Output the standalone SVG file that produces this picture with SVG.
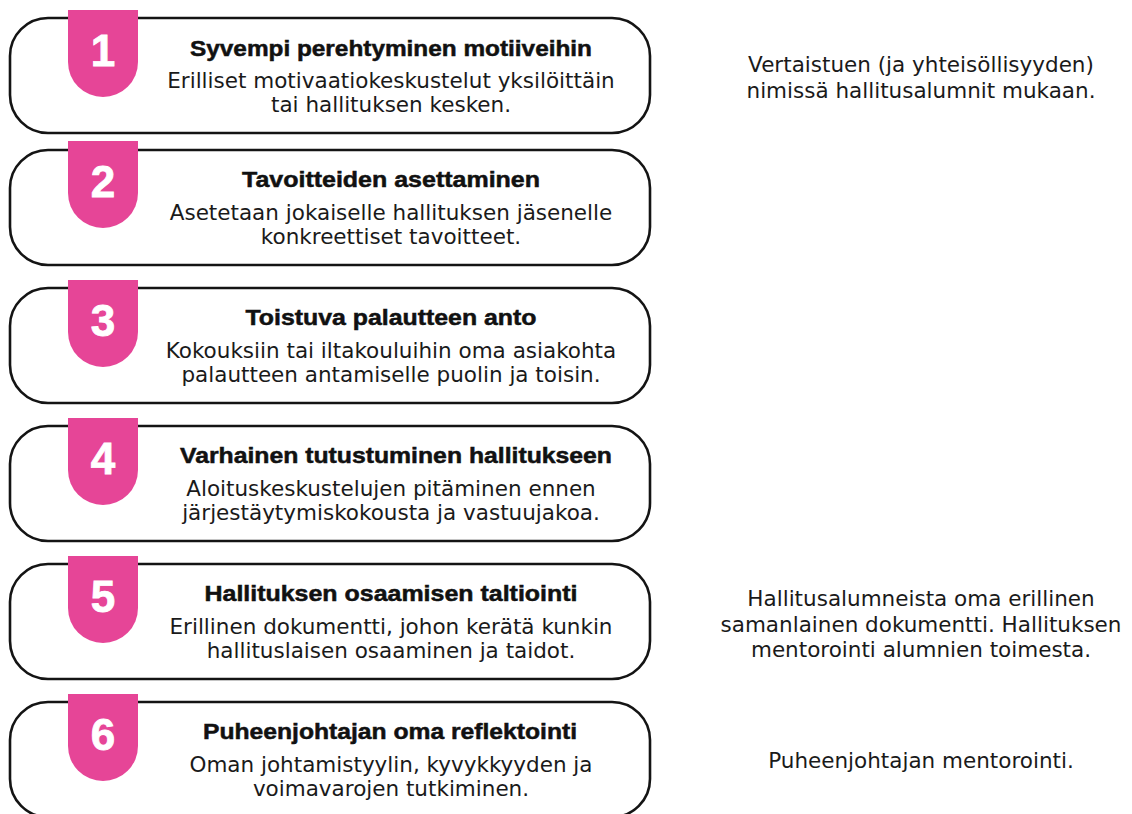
<svg xmlns="http://www.w3.org/2000/svg" width="1132" height="814" viewBox="0 0 1132 814">
<defs>
<style>
.card{fill:#fff;stroke:#141414;stroke-width:2.6}
.badge{fill:#E64597}
.num{font-family:"Liberation Sans",Arial,sans-serif;font-weight:900;font-size:44px;fill:#fff;stroke:#fff;stroke-width:0.8;text-anchor:middle}
.title{font-family:"Liberation Sans",Arial,sans-serif;font-weight:700;font-size:22px;fill:#111;stroke:#111;stroke-width:0.5;text-anchor:middle}
.body{font-family:"DejaVu Sans","Liberation Sans",sans-serif;font-size:21.5px;fill:#1a1a1a;text-anchor:middle}
.note{font-family:"DejaVu Sans","Liberation Sans",sans-serif;font-size:21.5px;fill:#1a1a1a;text-anchor:middle}
</style>
</defs>
<rect width="1132" height="814" fill="#fff"/>
<g id="node1">
<rect class="card" x="10" y="18" width="640" height="115" rx="38"/>
<path class="badge" d="M68,10H138V62A35,35 0 0 1 68,62Z"/>
<text class="num" x="103" y="66">1</text>
<text class="title" x="391" y="56" textLength="402" lengthAdjust="spacingAndGlyphs">Syvempi perehtyminen motiiveihin</text>
<text class="body" x="391" y="88">Erilliset motivaatiokeskustelut yksilöittäin</text>
<text class="body" x="391" y="112">tai hallituksen kesken.</text>
</g>
<g id="node2">
<rect class="card" x="10" y="150" width="640" height="115" rx="38"/>
<path class="badge" d="M68,141H138V193A35,35 0 0 1 68,193Z"/>
<text class="num" x="103" y="197">2</text>
<text class="title" x="391" y="187" textLength="298" lengthAdjust="spacingAndGlyphs">Tavoitteiden asettaminen</text>
<text class="body" x="391" y="220">Asetetaan jokaiselle hallituksen jäsenelle</text>
<text class="body" x="391" y="244">konkreettiset tavoitteet.</text>
</g>
<g id="node3">
<rect class="card" x="10" y="288" width="640" height="115" rx="38"/>
<path class="badge" d="M68,280H138V332A35,35 0 0 1 68,332Z"/>
<text class="num" x="103" y="336">3</text>
<text class="title" x="391" y="325" textLength="291" lengthAdjust="spacingAndGlyphs">Toistuva palautteen anto</text>
<text class="body" x="391" y="358">Kokouksiin tai iltakouluihin oma asiakohta</text>
<text class="body" x="391" y="382">palautteen antamiselle puolin ja toisin.</text>
</g>
<g id="node4">
<rect class="card" x="10" y="426" width="640" height="115" rx="38"/>
<path class="badge" d="M68,418H138V470A35,35 0 0 1 68,470Z"/>
<text class="num" x="103" y="474">4</text>
<text class="title" x="396" y="463" textLength="432" lengthAdjust="spacingAndGlyphs">Varhainen tutustuminen hallitukseen</text>
<text class="body" x="391" y="496">Aloituskeskustelujen pitäminen ennen</text>
<text class="body" x="391" y="520">järjestäytymiskokousta ja vastuujakoa.</text>
</g>
<g id="node5">
<rect class="card" x="10" y="564" width="640" height="115" rx="38"/>
<path class="badge" d="M68,556H138V608A35,35 0 0 1 68,608Z"/>
<text class="num" x="103" y="612">5</text>
<text class="title" x="391" y="601" textLength="373" lengthAdjust="spacingAndGlyphs">Hallituksen osaamisen taltiointi</text>
<text class="body" x="391" y="634">Erillinen dokumentti, johon kerätä kunkin</text>
<text class="body" x="391" y="658">hallituslaisen osaaminen ja taidot.</text>
</g>
<g id="node6">
<rect class="card" x="10" y="702" width="640" height="115" rx="38"/>
<path class="badge" d="M68,694H138V746A35,35 0 0 1 68,746Z"/>
<text class="num" x="103" y="750">6</text>
<text class="title" x="390" y="739" textLength="374" lengthAdjust="spacingAndGlyphs">Puheenjohtajan oma reflektointi</text>
<text class="body" x="391" y="772">Oman johtamistyylin, kyvykkyyden ja</text>
<text class="body" x="391" y="796">voimavarojen tutkiminen.</text>
</g>
<g id="connectors"></g>
<g id="note1">
<text class="note" x="921" y="72">Vertaistuen (ja yhteisöllisyyden)</text>
<text class="note" x="921" y="98">nimissä hallitusalumnit mukaan.</text>
</g>
<g id="note5">
<text class="note" x="921" y="606">Hallitusalumneista oma erillinen</text>
<text class="note" x="921" y="632">samanlainen dokumentti. Hallituksen</text>
<text class="note" x="921" y="657">mentorointi alumnien toimesta.</text>
</g>
<g id="note6">
<text class="note" x="921" y="768">Puheenjohtajan mentorointi.</text>
</g>
</svg>
